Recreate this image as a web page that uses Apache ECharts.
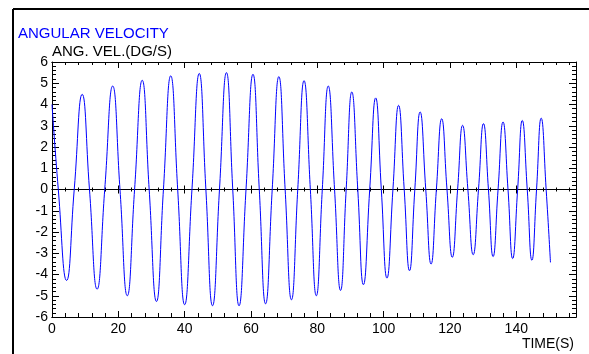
<!DOCTYPE html>
<html>
<head>
<meta charset="utf-8">
<script src="https://cdn.jsdelivr.net/npm/echarts@6/dist/echarts.min.js"></script>
<style>
html,body{margin:0;padding:0;background:#fff}
#main{width:589px;height:354px}
</style>
</head>
<body>
<div id="main"></div>
<script>
// peaks, troughs and zero crossings
var timeS=[0,1.9,4.4,6.7,9.1,11.3,13.6,15.9,18.3,20.5,22.7,24.9,27.2,29.3,31.5,33.6,35.8,37.9,40.0,42.2,
    44.4,46.4,48.4,50.5,52.6,54.5,56.4,58.5,60.6,62.5,64.4,66.4,68.4,70.3,72.2,74.1,76.0,77.9,79.7,81.5,
    83.3,85.2,87.0,88.7,90.4,92.2,93.9,95.8,97.6,99.3,101.0,102.8,104.5,106.2,107.8,109.4,111.0,112.7,114.3,115.9,
    117.5,119.1,120.7,122.3,123.8,125.4,127.0,128.6,130.1,131.6,133.0,134.5,136.0,137.5,138.9,140.4,141.8,143.3,144.7,146.1,
    147.5,149.0,150.3]
var angVel=[4.0,0,-4.28,0,4.48,0,-4.69,0,4.87,0,-5.00,0,5.14,0,-5.27,0,5.35,0,-5.42,0,
    5.46,0,-5.47,0,5.50,0,-5.47,0,5.42,0,-5.38,0,5.31,0,-5.19,0,5.12,0,-5.00,0,
    4.87,0,-4.75,0,4.59,0,-4.48,0,4.31,0,-4.17,0,3.96,0,-3.82,0,3.65,0,-3.51,0,
    3.33,0,-3.19,0,3.02,0,-3.07,0,3.10,0,-3.16,0,3.18,0,-3.25,0,3.25,0,-3.33,0,
    3.36,0,-3.43]
var xMin=0,xMax=158,xStep=20,xMinorStep=4
var yMin=-6,yMax=6,yStep=1

var FONT="'Liberation Sans', Arial, sans-serif"

//x轴 helper
function makeX(pos,step,len,inside,showLabel,onZero){
    return {
        type:'value',position:pos,min:xMin,max:xMax,interval:step,
        axisLine:{show:!onZero||inside,onZero:!!onZero,onZeroAxisIndex:0,lineStyle:{color:'#000',width:1}},
        axisTick:{show:true,inside:inside,length:len,lineStyle:{color:'#000',width:1}},
        axisLabel:{show:showLabel,color:'#000',fontSize:14,fontFamily:FONT,margin:5,showMaxLabel:false},
        splitLine:{show:false}
    }
}
function makeY(pos,showLabel){
    return {
        type:'value',position:pos,min:yMin,max:yMax,interval:yStep,
        axisLine:{show:true,onZero:false,lineStyle:{color:'#000',width:1}},
        axisTick:{show:true,inside:true,length:7,lineStyle:{color:'#000'}},
        minorTick:{show:true,splitNumber:5,length:4,lineStyle:{color:'#000'}},
        axisLabel:{show:showLabel,color:'#000',fontSize:14,fontFamily:FONT,margin:4,padding:[0,0,7,0]},
        splitLine:{show:false}
    }
}

function drawChar(){
    var myChart=echarts.init(document.getElementById('main'))
    var pts=[]
    for(var i=0;i<timeS.length;i++) pts.push([timeS[i],angVel[i]])
    var option={
        animation:false,
        backgroundColor:'#fff',
        title:[
            {text:'ANGULAR VELOCITY',left:18,top:26,padding:0,textStyle:{color:'#0000ff',fontSize:15,fontWeight:'normal',fontFamily:FONT}},
            {text:'ANG. VEL.(DG/S)',left:52,top:44,padding:0,textStyle:{color:'#000',fontSize:15,fontWeight:'normal',fontFamily:FONT}},
            {text:'TIME(S)',right:15,top:337,padding:0,textStyle:{color:'#000',fontSize:14,fontWeight:'normal',fontFamily:FONT}}
        ],
        grid:{left:52,right:13,top:62,bottom:37},
        xAxis:[
            makeX('bottom',xStep,6,true,true,false),
            makeX('bottom',xMinorStep,4,true,false,false),
            makeX('top',xStep,6,true,false,false),
            makeX('top',xMinorStep,3,true,false,false),
            makeX('bottom',xStep,4,true,false,true),
            makeX('bottom',xStep,4,false,false,true),
            makeX('bottom',xMinorStep,2,true,false,true),
            makeX('bottom',xMinorStep,2,false,false,true)
        ],
        yAxis:[makeY('left',true),makeY('right',false)],
        series:[{
            type:'line',xAxisIndex:0,yAxisIndex:0,
            data:pts,smooth:0.5,showSymbol:false,
            lineStyle:{color:'#0000ff',width:1},
            z:1
        }],
        graphic:[
            {type:'line',shape:{x1:13,y1:9,x2:589,y2:9},style:{stroke:'#000',lineWidth:2}},
            {type:'line',shape:{x1:13,y1:9,x2:13,y2:354},style:{stroke:'#000',lineWidth:2}}
        ]
    }
    myChart.setOption(option)
}
drawChar()
</script>
</body>
</html>
